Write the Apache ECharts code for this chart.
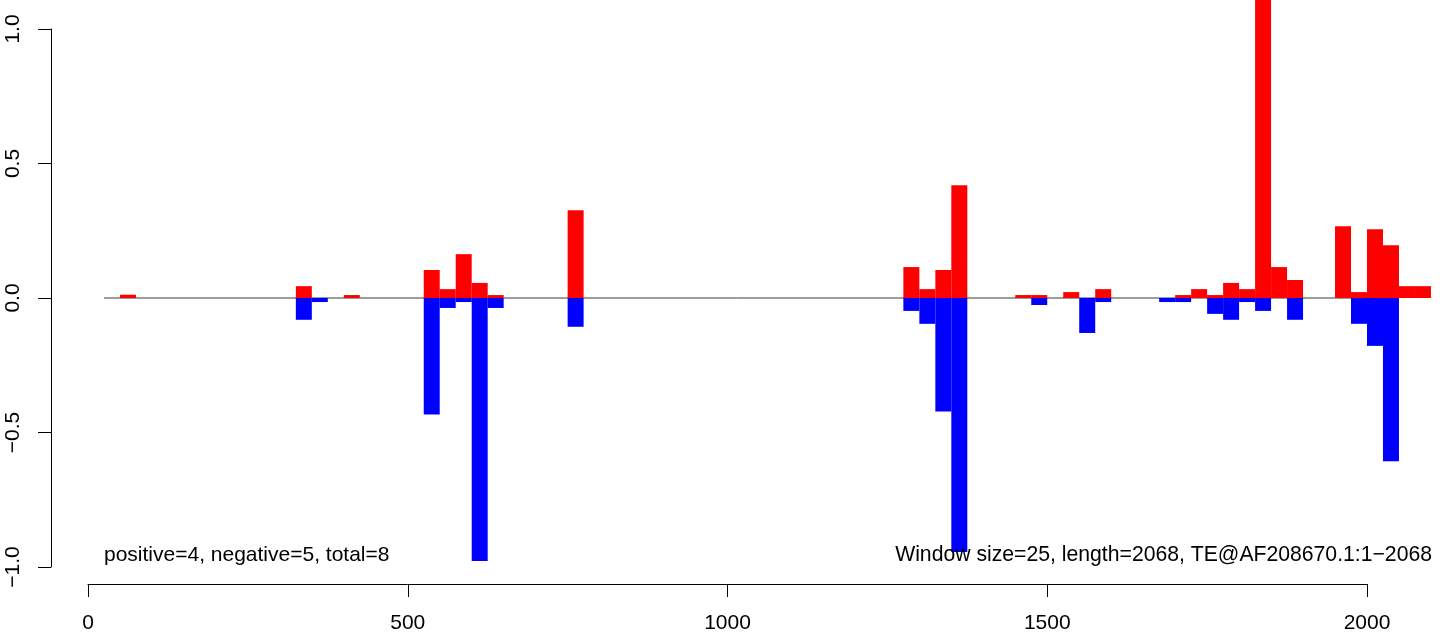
<!DOCTYPE html>
<html>
<head>
<meta charset="utf-8">
<script src="https://cdn.jsdelivr.net/npm/echarts@6/dist/echarts.min.js"></script>
<style>html,body{margin:0;padding:0;background:#fff;}#chart{width:1449px;height:634px;}</style>
</head>
<body>
<div id="chart"></div>
<script>
// ---- data ----
const windowSize = 25;
const windowStarts = [50, 325, 350, 400, 525, 550, 575, 600, 625, 750,
  1275, 1300, 1325, 1350, 1450, 1475, 1525, 1550, 1575,
  1675, 1700, 1725, 1750, 1775, 1800, 1825, 1850, 1875,
  1950, 1975, 2000, 2025, 2050, 2075];
const positiveValues = [0.012, 0.044, 0, 0.011, 0.104, 0.033, 0.163, 0.056, 0.011, 0.326,
  0.115, 0.033, 0.104, 0.419, 0.011, 0.011, 0.022, 0, 0.033,
  0, 0.011, 0.033, 0.011, 0.056, 0.033, 1.5, 0.115, 0.067,
  0.267, 0.022, 0.256, 0.196, 0.044, 0.044];
const negativeValues = [0, -0.081, -0.015, 0, -0.433, -0.037, -0.015, -0.978, -0.037, -0.107,
  -0.048, -0.096, -0.422, -0.944, 0, -0.026, 0, -0.130, -0.015,
  -0.015, -0.015, 0, -0.059, -0.081, -0.015, -0.048, 0, -0.081,
  0, -0.096, -0.178, -0.607, 0, 0];
const baselineRange = [25, 2100];
const xTicks = [0, 500, 1000, 1500, 2000];
const yTicks = [-1.0, -0.5, 0.0, 0.5, 1.0];
const leftNote = 'positive=4, negative=5, total=8';
const rightNote = 'Window size=25, length=2068, TE@AF208670.1:1\u22122068';

const FONT = 'Liberation Sans, Arial, Helvetica, sans-serif';
const chart = echarts.init(document.getElementById('chart'), null, {renderer: 'canvas'});

function barSeries(values, color, name) {
  return {
    type: 'custom', name: name, clip: false, z: 3,
    data: windowStarts.map((s, i) => [s, values[i]]).filter(d => d[1] !== 0),
    renderItem: function (params, api) {
      const x0 = api.value(0), v = api.value(1);
      const a = api.coord([x0, v]);
      const b = api.coord([x0 + windowSize, 0]);
      return {
        type: 'rect',
        shape: {x: a[0], y: Math.min(a[1], b[1]), width: b[0] - a[0], height: Math.abs(b[1] - a[1])},
        style: {fill: color}
      };
    }
  };
}

const fmtY = v => (v < 0 ? '\u2212' : '') + Math.abs(v).toFixed(1);
const fmtX = v => String(Math.round(v));

chart.setOption({
  animation: false,
  backgroundColor: '#ffffff',
  grid: {left: 88, right: 82, top: 29, bottom: 65, containLabel: false},
  xAxis: {
    type: 'value', min: xTicks[0], max: xTicks[xTicks.length - 1], interval: 500,
    offset: 17,
    axisLine: {show: true, onZero: false, lineStyle: {color: '#000', width: 1}},
    axisTick: {show: true, inside: false, length: 13, lineStyle: {color: '#000', width: 1}},
    axisLabel: {show: true, margin: 29, color: '#000', fontSize: 21, fontFamily: FONT, formatter: fmtX},
    splitLine: {show: false}
  },
  yAxis: {
    type: 'value', min: yTicks[0], max: yTicks[yTicks.length - 1], interval: 0.5,
    offset: 37,
    axisLine: {show: true, onZero: false, lineStyle: {color: '#000', width: 1}},
    axisTick: {show: true, inside: false, length: 13, lineStyle: {color: '#000', width: 1}},
    axisLabel: {show: true, rotate: 90, margin: 27, color: '#000', fontSize: 21, fontFamily: FONT,
      formatter: fmtY},
    splitLine: {show: false}
  },
  series: [
    {
      type: 'line', clip: false, z: 1, symbol: 'none', silent: true,
      data: [[baselineRange[0], 0], [baselineRange[1], 0]],
      lineStyle: {color: '#3a3a3a', width: 1}
    },
    barSeries(positiveValues, '#ff0000', 'positive'),
    barSeries(negativeValues, '#0000ff', 'negative')
  ],
  graphic: [
    {type: 'text', left: 104, top: 545, z: 10,
      style: {text: leftNote, fill: '#000', font: '21px ' + FONT}},
    {type: 'text', right: 1449 - 1432, top: 545, z: 10,
      style: {text: rightNote, fill: '#000', font: '21.2px ' + FONT}}
  ]
});
</script>
</body>
</html>
